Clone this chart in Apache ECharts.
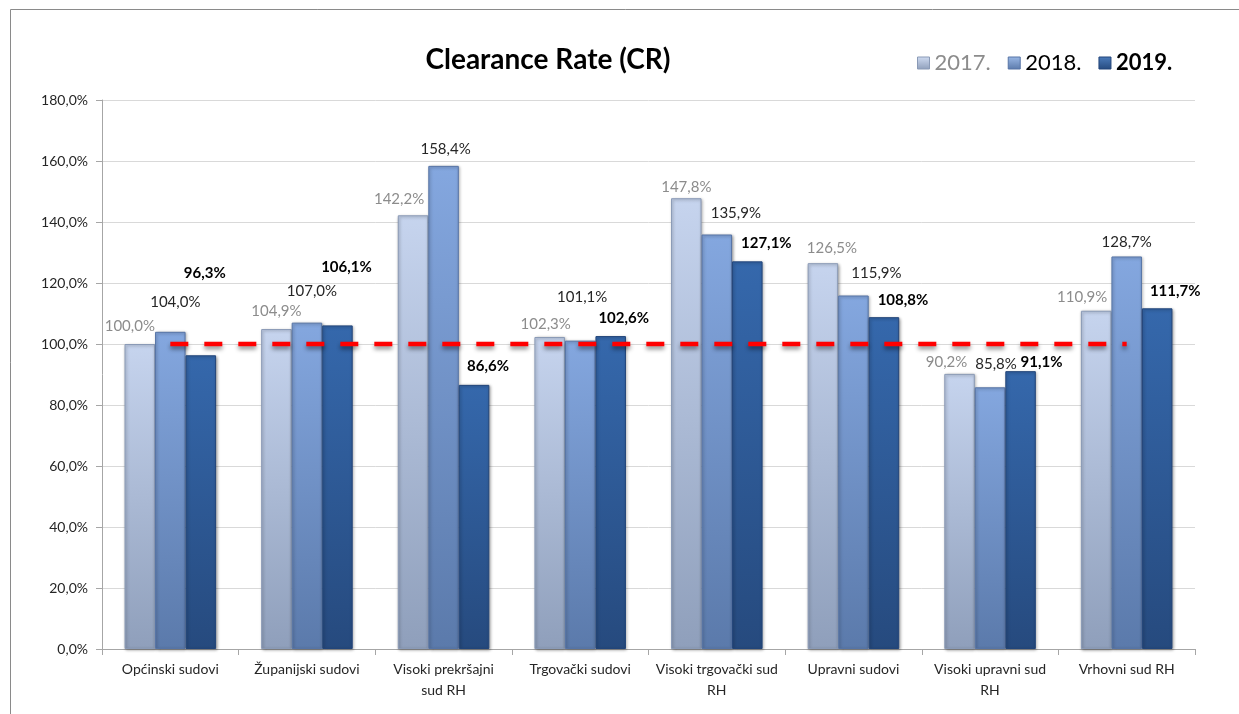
<!DOCTYPE html>
<html>
<head>
<meta charset="utf-8">
<script src="https://cdn.jsdelivr.net/npm/echarts@6/dist/echarts.min.js"></script>
<style>html,body{margin:0;padding:0;background:#fff}#c{width:1239px;height:714px}</style>
</head>
<body>
<div id="c"></div>
<script>
// ---- data ----
var categories = ['Općinski sudovi', 'Županijski sudovi', 'Visoki prekršajni\nsud RH', 'Trgovački sudovi',
  'Visoki trgovački sud\nRH', 'Upravni sudovi', 'Visoki upravni sud\nRH', 'Vrhovni sud RH'];
var seriesNames = ['2017.', '2018.', '2019.'];
var cr2017 = [100.0, 104.9, 142.2, 102.3, 147.8, 126.5, 90.2, 110.9];
var cr2018 = [104.0, 107.0, 158.4, 101.1, 135.9, 115.9, 85.8, 128.7];
var cr2019 = [96.3, 106.1, 86.6, 102.6, 127.1, 108.8, 91.1, 111.7];
var target = [100, 100, 100, 100, 100, 100, 100, 100];
var yTicks = {min: 0, max: 180, interval: 20};

// ---- styling (label nudges as in the original, kept apart from data) ----
var labelNudge = [
  [[-10,-5],[0,-5],[-14,-4],[-4,0],[0,1],[9,-3],[-13,1],[-14,-1]],
  [[5,-17],[5,-19],[2,-4],[2,-31],[19,-9],[23,-10],[6,-11],[0,-2]],
  [[4,-70],[9,-46],[14,-6],[13,-5],[19,-6],[19,-5],[21,4],[18,-5]]
];
var FONT = 'Lato, "Open Sans", sans-serif';
function fmt(v){ return v.toFixed(1).replace('.', ',') + '%'; }
function grad(top, bottom){
  return new echarts.graphic.LinearGradient(0,0,0,1,[{offset:0,color:top},{offset:1,color:bottom}]);
}
var styles = [
  {fill: grad('#c6d4ee','#8f9fbb'), border:'#8a9ab6', icon: grad('#d0dcf2','#8f9fbb'), lbl:{color:'#8c8c8c', fontWeight:'normal'}},
  {fill: grad('#84a7df','#5b7aab'), border:'#5674a6', icon: grad('#9ab8e6','#5b7aab'), lbl:{color:'#262626', fontWeight:'normal'}},
  {fill: grad('#3568ac','#264a7e'), border:'#22457a', icon: grad('#4c7cbc','#264a7e'), lbl:{color:'#000000', fontWeight:'bold'}}
];
var values = [cr2017, cr2018, cr2019];

var barSeries = values.map(function(arr, s){
  return {
    name: seriesNames[s], type: 'bar', barGap: '0%', barCategoryGap: '33%',
    itemStyle: {color: styles[s].fill, borderColor: styles[s].border, borderWidth: 1,
      shadowColor: 'rgba(0,0,0,0.35)', shadowBlur: 3, shadowOffsetX: 1, shadowOffsetY: 1},
    data: arr.map(function(v, i){
      return {value: v, label: {offset: labelNudge[s][i]}};
    }),
    label: {show: true, position: 'top', distance: 5, fontFamily: FONT, fontSize: 15,
      color: styles[s].lbl.color, fontWeight: styles[s].lbl.fontWeight,
      formatter: function(p){ return fmt(p.value); }},
    z: 2
  };
});

var chart = echarts.init(document.getElementById('c'), null, {renderer: 'canvas'});
chart.setOption({
  animation: false,
  backgroundColor: '#fff',
  graphic: [{type: 'rect', shape: {x: 10.5, y: 9.5, width: 1300, height: 800},
    style: {fill: 'none', stroke: '#8a8a8a', lineWidth: 1}, z: -1}],
  title: {text: 'Clearance Rate (CR)', left: 543, top: 41, textAlign: 'center',
    textStyle: {fontFamily: FONT, fontSize: 28, fontWeight: 'bold', color: '#000'}},
  legend: {
    left: 912, top: 47, itemWidth: 12, itemHeight: 12, itemGap: 17,
    data: seriesNames.map(function(n, s){
      return {name: n, icon: 'rect', itemStyle: {color: styles[s].icon, borderColor: styles[s].border, borderWidth: 1},
        textStyle: {color: s === 0 ? '#8c8c8c' : '#000', fontWeight: s === 2 ? 'bold' : 'normal'}};
    }),
    textStyle: {fontFamily: FONT, fontSize: 22, padding: [0, 0, 0, 0]}
  },
  grid: {left: 102, right: 44, top: 100, bottom: 65, containLabel: false},
  xAxis: {
    type: 'category', data: categories,
    axisLine: {lineStyle: {color: '#a6a6a6'}},
    axisTick: {show: true, length: 6, lineStyle: {color: '#a6a6a6'}},
    axisLabel: {fontFamily: FONT, fontSize: 14, color: '#262626', lineHeight: 21, margin: 10, interval: 0}
  },
  yAxis: {
    type: 'value', min: yTicks.min, max: yTicks.max, interval: yTicks.interval,
    axisLine: {show: true, lineStyle: {color: '#a6a6a6'}},
    axisTick: {show: true, length: 6, lineStyle: {color: '#a6a6a6'}},
    splitLine: {lineStyle: {color: '#d9d9d9'}},
    axisLabel: {fontFamily: FONT, fontSize: 14, color: '#262626', margin: 14,
      formatter: function(v){ return fmt(v); }}
  },
  series: barSeries.concat([{
    name: 'target', type: 'line', data: target, symbol: 'none', silent: true, z: 5,
    lineStyle: {color: '#ff0000', width: 4.5, type: [18, 16], cap: 'butt',
      shadowColor: 'rgba(0,0,0,0.45)', shadowBlur: 4, shadowOffsetY: 3}
  }])
});
</script>
</body>
</html>
